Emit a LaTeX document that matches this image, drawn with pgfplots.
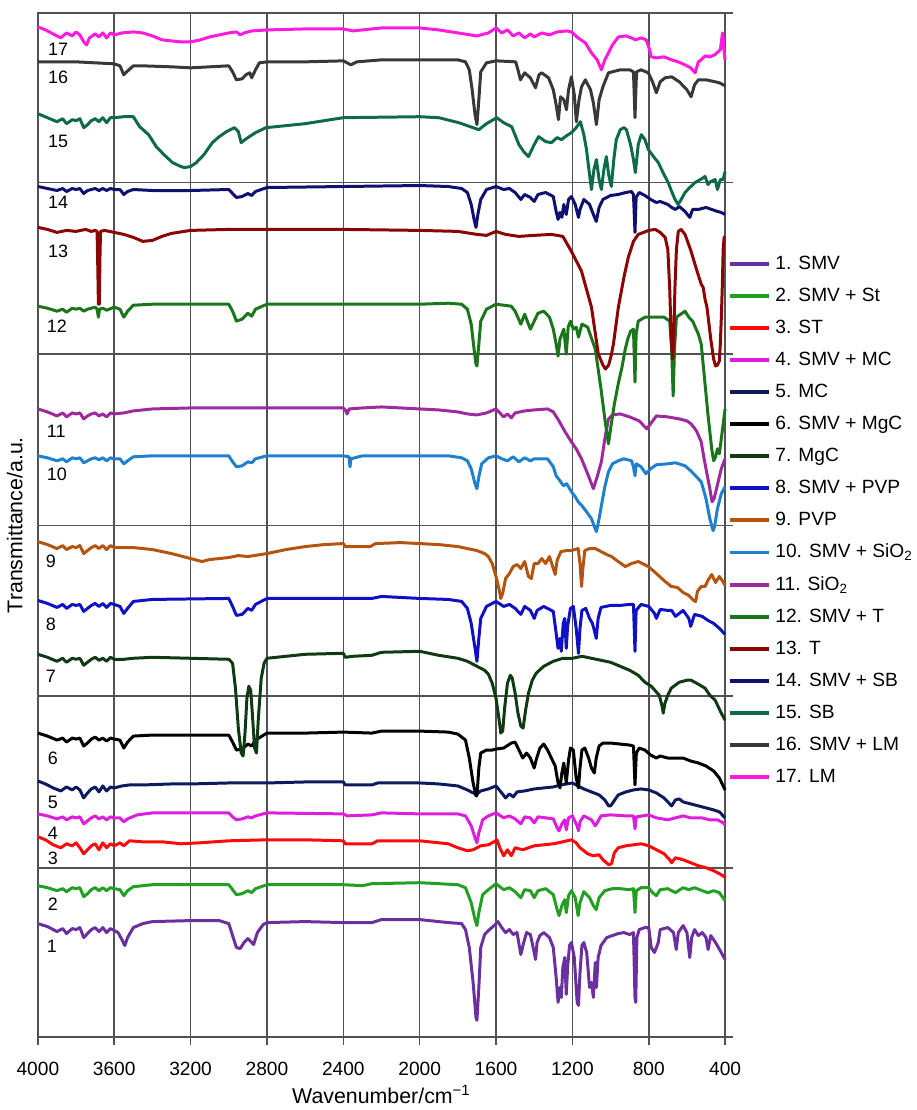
\documentclass[border=0pt]{standalone}
\usepackage{fontspec}
\setmainfont{Liberation Sans}
\usepackage{pgfplots}
\pgfplotsset{compat=1.18}
\definecolor{gridgray}{HTML}{525252}
\definecolor{c1}{HTML}{6B2FA0}
\definecolor{c2}{HTML}{22A022}
\definecolor{c3}{HTML}{FF0A0A}
\definecolor{c4}{HTML}{DD1FDD}
\definecolor{c5}{HTML}{0D1B5E}
\definecolor{c6}{HTML}{000000}
\definecolor{c7}{HTML}{103A12}
\definecolor{c8}{HTML}{1010C4}
\definecolor{c9}{HTML}{B4540F}
\definecolor{c10}{HTML}{2080D0}
\definecolor{c11}{HTML}{9E2A9E}
\definecolor{c12}{HTML}{1B761B}
\definecolor{c13}{HTML}{8B0505}
\definecolor{c14}{HTML}{101070}
\definecolor{c15}{HTML}{0E6B48}
\definecolor{c16}{HTML}{383838}
\definecolor{c17}{HTML}{FF1ADE}
\begin{document}
\begin{tikzpicture}
\begin{axis}[
 width=344.5pt,height=513.5pt,scale only axis,
 x dir=reverse,y dir=reverse,
 xmin=400,xmax=4000,ymin=13,ymax=1040,
 xtick={400,800,...,4000},
 ytick={13,183,355,527,698,870,1040},yticklabels={},
 xtick pos=left,ytick pos=right,tick align=outside,major tick length=4pt,
 grid=major,major grid style={draw=gridgray,line width=0.8pt},
 axis line style={draw=gridgray,line width=0.8pt},
 tick style={draw=gridgray,line width=0.8pt},
 /pgf/number format/1000 sep={},/pgf/number format/assume math mode=true,
 tick label style={font=\fontsize{9.6}{11}\selectfont},
 xticklabel style={yshift=-5pt},
 xlabel={Wavenumber/cm\textsuperscript{−1}},ylabel={Transmittance/a.u.},
 label style={font=\fontsize{10.7}{12}\selectfont},
 xlabel style={at={(axis description cs:0.5,-0.0643)},anchor=base},
 ylabel style={at={(axis description cs:-0.012,0.5)},anchor=south},
 legend style={at={(axis description cs:1.003,0.5044)},anchor=west,draw=none,fill=none,
   font=\fontsize{9.6}{11}\selectfont,inner xsep=0pt,row sep=3.85pt,cells={anchor=west}},
 legend image code/.code={\draw[#1,line width=2pt] (0pt,0pt) -- (20pt,0pt);},
 every axis plot/.append style={line width=1.5pt,line join=round},
 clip=false,
]
% 1. SMV
\addplot[c1] coordinates {(4000,926)(3950,929)(3900,934)(3870,931)(3850,936)(3820,931)(3800,932)(3780,930)(3760,940)(3740,936)(3720,932)(3700,930)(3680,934)(3660,930)(3640,935)(3620,931)(3600,933)(3580,935)(3560,942)(3545,948)(3530,940)(3500,930)(3450,926)(3400,924)(3200,923)(3050,923)(3000,926)(2980,938)(2960,950)(2940,951)(2920,945)(2900,941)(2880,945)(2870,947)(2850,935)(2820,927)(2800,925)(2600,924)(2400,925)(2250,925)(2200,922)(2000,922)(1850,925)(1780,926)(1760,932)(1740,950)(1720,985)(1705,1020)(1700,1023)(1690,990)(1680,950)(1660,937)(1640,933)(1610,928)(1590,924)(1570,930)(1550,935)(1530,932)(1510,937)(1490,935)(1470,957)(1455,945)(1440,935)(1420,937)(1400,955)(1393,962)(1385,945)(1370,938)(1350,935)(1320,940)(1300,950)(1285,980)(1275,1005)(1265,990)(1258,1000)(1250,970)(1240,960)(1232,997)(1225,970)(1215,948)(1205,945)(1190,960)(1175,1005)(1168,1008)(1160,975)(1150,948)(1140,945)(1125,955)(1110,990)(1100,985)(1090,1000)(1080,965)(1074,990)(1065,960)(1050,948)(1020,940)(990,938)(960,936)(930,935)(900,937)(880,935)(872,1000)(868,1005)(862,940)(850,932)(820,930)(800,930)(787,950)(770,955)(750,945)(740,932)(700,930)(670,935)(656,952)(645,935)(620,928)(600,935)(585,960)(575,940)(560,932)(540,938)(520,935)(500,940)(489,952)(475,938)(450,945)(420,955)(400,962)};
% 2. SMV + St
\addplot[c2] coordinates {(4000,888)(3950,890)(3900,893)(3870,891)(3850,894)(3820,890)(3800,891)(3780,890)(3760,899)(3740,896)(3720,892)(3700,890)(3680,893)(3660,890)(3640,893)(3620,890)(3600,891)(3570,892)(3550,898)(3530,893)(3500,889)(3400,887)(3000,887)(2980,892)(2960,897)(2930,896)(2900,893)(2880,895)(2860,891)(2800,887)(2400,887)(2300,888)(2250,886)(2000,885)(1800,887)(1760,890)(1730,905)(1710,922)(1700,928)(1690,915)(1670,897)(1640,892)(1600,886)(1560,892)(1530,890)(1500,894)(1470,900)(1450,892)(1420,893)(1400,900)(1380,893)(1340,891)(1300,897)(1280,912)(1270,918)(1255,908)(1240,902)(1232,915)(1220,898)(1205,893)(1185,900)(1170,918)(1160,905)(1140,894)(1110,900)(1090,908)(1075,912)(1060,900)(1030,893)(990,891)(950,891)(900,892)(880,891)(872,915)(865,893)(840,890)(800,890)(780,895)(760,898)(740,892)(700,891)(660,895)(620,890)(590,892)(560,890)(520,893)(490,895)(460,893)(430,895)(400,903)};
% 3. ST
\addplot[c3] coordinates {(4000,839)(3960,842)(3920,847)(3880,850)(3850,846)(3820,848)(3800,845)(3780,850)(3760,856)(3740,852)(3720,848)(3700,846)(3680,852)(3660,845)(3640,850)(3620,846)(3600,848)(3570,845)(3550,848)(3520,843)(3450,844)(3350,844)(3250,846)(3150,845)(3000,843)(2800,842)(2600,842)(2400,843)(2390,846)(2250,846)(2220,843)(2000,843)(1950,844)(1850,846)(1800,850)(1750,853)(1720,852)(1700,850)(1680,848)(1640,847)(1610,844)(1595,842)(1580,850)(1560,858)(1540,852)(1520,858)(1500,850)(1460,852)(1400,848)(1300,846)(1250,844)(1205,842)(1180,845)(1160,850)(1120,856)(1090,858)(1060,857)(1040,862)(1010,867)(995,866)(980,855)(960,850)(920,848)(880,847)(840,846)(800,848)(760,852)(720,856)(690,862)(680,865)(660,860)(620,862)(580,865)(540,868)(500,870)(460,873)(430,876)(410,878)(400,880)};
% 4. SMV + MC
\addplot[c4] coordinates {(4000,816)(3950,818)(3900,821)(3870,819)(3850,822)(3820,819)(3800,820)(3780,819)(3760,826)(3740,823)(3720,820)(3700,818)(3680,821)(3660,819)(3640,822)(3620,819)(3600,820)(3570,820)(3550,824)(3530,821)(3480,817)(3400,815)(3000,815)(2980,819)(2960,822)(2930,821)(2900,819)(2880,820)(2860,818)(2800,815)(2400,816)(2380,818)(2250,817)(2200,815)(2000,816)(1800,816)(1760,818)(1730,828)(1710,840)(1700,845)(1690,835)(1670,822)(1640,818)(1600,815)(1560,820)(1530,818)(1500,821)(1470,826)(1450,819)(1420,820)(1400,825)(1380,819)(1300,821)(1280,830)(1270,833)(1255,826)(1240,822)(1232,832)(1220,820)(1200,818)(1175,828)(1168,833)(1160,824)(1140,818)(1100,822)(1080,828)(1070,825)(1050,818)(1000,817)(920,818)(880,818)(872,831)(865,819)(800,817)(760,820)(700,822)(660,820)(620,818)(580,820)(520,820)(480,822)(440,822)(410,825)(400,827)};
% 5. MC
\addplot[c5] coordinates {(4000,783)(3960,786)(3920,790)(3880,793)(3850,789)(3820,792)(3800,789)(3780,792)(3760,800)(3740,795)(3720,791)(3700,789)(3680,794)(3660,788)(3640,793)(3620,789)(3600,790)(3560,788)(3520,787)(3450,787)(3300,786)(3200,786)(3000,785)(2800,785)(2600,784)(2400,784)(2390,787)(2250,787)(2220,785)(2000,785)(1900,786)(1800,788)(1750,792)(1720,795)(1700,796)(1680,793)(1640,791)(1600,788)(1570,795)(1550,800)(1530,796)(1510,799)(1490,794)(1450,793)(1400,791)(1300,789)(1260,787)(1200,785)(1170,788)(1140,791)(1100,794)(1060,797)(1030,802)(1010,808)(1000,808)(985,804)(960,797)(920,794)(880,792)(840,791)(800,792)(760,795)(720,800)(690,806)(680,808)(660,802)(640,801)(620,804)(580,806)(540,808)(500,810)(460,812)(430,814)(410,818)(400,820)};
% 6. SMV + MgC
\addplot[c6] coordinates {(4000,735)(3950,738)(3900,742)(3870,740)(3850,744)(3820,740)(3800,741)(3780,740)(3760,748)(3740,745)(3720,741)(3700,739)(3680,742)(3660,740)(3640,743)(3620,740)(3600,741)(3570,742)(3550,750)(3530,744)(3500,738)(3400,737)(3200,737)(3000,737)(2980,744)(2960,752)(2930,751)(2900,746)(2880,748)(2860,742)(2800,735)(2600,735)(2400,734)(2250,735)(2200,733)(2000,733)(1850,734)(1800,736)(1760,742)(1740,760)(1720,785)(1705,798)(1700,798)(1690,770)(1680,755)(1650,752)(1620,752)(1600,751)(1560,750)(1520,745)(1500,744)(1480,752)(1460,760)(1440,755)(1420,760)(1400,770)(1390,762)(1370,750)(1350,746)(1330,752)(1310,760)(1290,768)(1275,785)(1265,790)(1255,775)(1245,765)(1232,785)(1220,762)(1210,750)(1195,752)(1180,780)(1168,790)(1160,770)(1150,752)(1135,750)(1115,760)(1100,770)(1085,775)(1075,760)(1060,748)(1040,745)(1000,745)(950,746)(900,747)(880,748)(872,787)(865,755)(850,750)(820,752)(790,757)(760,760)(740,758)(700,760)(660,760)(620,760)(580,763)(540,765)(500,768)(460,773)(430,780)(410,788)(400,792)};
% 7. MgC
\addplot[c7] coordinates {(4000,656)(3950,659)(3900,663)(3870,660)(3850,664)(3820,660)(3800,661)(3780,660)(3760,667)(3740,664)(3720,661)(3700,659)(3680,662)(3660,660)(3640,663)(3620,659)(3600,661)(3550,661)(3500,660)(3400,659)(3200,660)(3000,661)(2980,665)(2965,690)(2950,730)(2935,755)(2925,758)(2915,735)(2905,700)(2895,688)(2885,692)(2875,720)(2865,750)(2855,755)(2845,720)(2830,680)(2815,665)(2800,660)(2600,656)(2400,655)(2390,659)(2350,658)(2250,657)(2200,654)(2000,653)(1900,657)(1800,660)(1750,663)(1700,668)(1660,672)(1640,676)(1620,685)(1600,700)(1585,720)(1575,735)(1565,733)(1555,710)(1540,685)(1525,677)(1515,680)(1500,695)(1485,715)(1470,728)(1458,730)(1445,712)(1430,695)(1410,682)(1390,675)(1350,668)(1300,663)(1250,660)(1200,660)(1150,658)(1050,662)(1000,664)(950,668)(900,672)(855,677)(820,684)(787,688)(745,697)(730,708)(724,715)(715,705)(700,697)(682,690)(640,684)(600,682)(578,682)(540,686)(505,690)(480,697)(452,702)(420,715)(400,722)};
% 8. SMV + PVP
\addplot[c8] coordinates {(4000,602)(3950,605)(3900,609)(3870,606)(3850,610)(3820,606)(3800,607)(3780,606)(3760,613)(3740,610)(3720,607)(3700,605)(3680,608)(3660,605)(3640,609)(3620,605)(3600,606)(3570,608)(3550,615)(3530,610)(3500,603)(3400,601)(3000,600)(2980,608)(2960,617)(2930,616)(2900,610)(2880,612)(2860,606)(2800,600)(2400,600)(2250,600)(2200,598)(2000,600)(1850,601)(1780,603)(1750,610)(1730,625)(1710,650)(1700,663)(1690,640)(1680,620)(1650,608)(1600,603)(1560,608)(1530,606)(1500,610)(1470,616)(1450,608)(1420,612)(1400,620)(1385,612)(1350,608)(1300,613)(1285,635)(1275,650)(1265,640)(1258,653)(1248,625)(1240,620)(1232,650)(1225,628)(1210,610)(1195,608)(1180,630)(1168,655)(1160,630)(1150,612)(1130,610)(1110,620)(1095,625)(1085,632)(1075,640)(1065,620)(1050,609)(1000,607)(950,607)(900,606)(880,606)(872,653)(866,612)(840,606)(800,608)(770,615)(760,620)(740,611)(700,612)(680,612)(660,618)(620,612)(590,620)(580,628)(560,616)(520,618)(490,622)(460,625)(430,630)(400,636)};
% 9. PVP
\addplot[c9] coordinates {(4000,543)(3950,546)(3900,550)(3870,547)(3850,551)(3820,548)(3800,549)(3780,547)(3760,555)(3740,552)(3720,549)(3700,547)(3680,550)(3660,547)(3640,551)(3620,547)(3600,549)(3550,549)(3500,549)(3400,551)(3300,555)(3200,560)(3140,563)(3100,561)(3000,559)(2950,557)(2900,558)(2800,555)(2700,551)(2600,548)(2500,546)(2400,545)(2390,548)(2260,548)(2230,545)(2100,544)(2000,545)(1900,546)(1800,548)(1750,550)(1700,552)(1660,555)(1640,558)(1620,565)(1600,578)(1585,590)(1575,600)(1565,595)(1550,580)(1530,575)(1510,568)(1490,566)(1470,570)(1450,563)(1430,578)(1415,580)(1400,565)(1380,565)(1360,560)(1340,565)(1320,558)(1300,570)(1290,576)(1280,562)(1260,553)(1230,552)(1205,552)(1170,550)(1160,565)(1152,588)(1145,570)(1135,552)(1110,550)(1080,550)(1050,553)(1020,556)(995,558)(960,563)(923,568)(890,565)(855,563)(802,568)(760,575)(720,582)(682,588)(650,589)(620,594)(590,597)(565,602)(554,603)(545,593)(525,588)(505,588)(490,582)(470,576)(450,584)(430,578)(415,582)(400,587)};
% 10. SMV + SiO2
\addplot[c10] coordinates {(4000,457)(3950,459)(3900,462)(3870,460)(3850,463)(3820,459)(3800,460)(3780,459)(3760,464)(3740,462)(3720,460)(3700,459)(3680,461)(3660,459)(3640,462)(3620,459)(3600,460)(3570,460)(3550,465)(3530,462)(3500,458)(3400,457)(3000,457)(2980,463)(2960,468)(2930,467)(2900,463)(2880,464)(2860,460)(2800,457)(2400,457)(2370,458)(2365,468)(2360,460)(2300,457)(2000,457)(1850,457)(1780,459)(1750,462)(1730,470)(1710,485)(1700,490)(1690,478)(1675,465)(1640,459)(1600,457)(1570,460)(1540,462)(1510,458)(1480,463)(1450,459)(1420,462)(1400,460)(1330,460)(1300,468)(1285,477)(1265,482)(1247,487)(1230,485)(1205,493)(1185,498)(1170,503)(1150,507)(1130,512)(1100,520)(1085,528)(1074,533)(1060,520)(1048,507)(1030,488)(1011,473)(990,465)(960,462)(930,460)(890,462)(880,468)(872,477)(865,465)(840,468)(815,475)(790,470)(760,466)(700,465)(660,464)(610,467)(580,472)(550,478)(525,483)(500,500)(480,520)(463,532)(455,528)(440,510)(420,495)(400,488)};
% 11. SiO2
\addplot[c11] coordinates {(4000,410)(3950,413)(3900,417)(3870,414)(3850,418)(3820,414)(3800,415)(3780,414)(3760,420)(3740,417)(3720,415)(3700,414)(3680,417)(3660,415)(3640,418)(3620,414)(3600,415)(3550,414)(3500,412)(3400,410)(3200,409)(3000,409)(2800,409)(2600,409)(2400,409)(2390,411)(2380,415)(2370,410)(2300,409)(2200,408)(2000,410)(1900,411)(1800,413)(1750,415)(1700,416)(1650,414)(1600,410)(1580,414)(1560,418)(1540,415)(1520,419)(1500,414)(1450,412)(1400,411)(1330,410)(1300,413)(1270,422)(1238,433)(1205,443)(1180,450)(1152,460)(1116,477)(1090,490)(1070,478)(1048,463)(1030,440)(1011,420)(990,416)(950,415)(900,418)(850,422)(810,430)(787,424)(760,417)(700,418)(640,420)(600,422)(578,425)(550,432)(525,443)(510,460)(495,475)(480,490)(468,503)(458,500)(445,490)(420,470)(400,460)};
% 12. SMV + T
\addplot[c12] coordinates {(4000,307)(3950,309)(3900,312)(3870,310)(3850,313)(3820,309)(3800,310)(3780,309)(3760,312)(3740,310)(3720,309)(3700,308)(3690,310)(3683,318)(3677,310)(3660,309)(3640,311)(3600,308)(3570,310)(3550,318)(3530,312)(3500,306)(3400,305)(3000,305)(2980,312)(2960,322)(2930,320)(2900,314)(2880,317)(2860,310)(2800,305)(2400,305)(2000,305)(1850,304)(1780,305)(1750,310)(1730,325)(1715,350)(1705,365)(1700,367)(1690,345)(1680,322)(1650,310)(1600,305)(1560,306)(1520,307)(1500,312)(1470,325)(1450,315)(1420,330)(1400,322)(1380,314)(1350,312)(1320,318)(1300,330)(1285,345)(1275,357)(1265,340)(1255,335)(1245,330)(1232,355)(1222,328)(1210,322)(1195,330)(1180,328)(1168,338)(1150,325)(1120,328)(1080,350)(1050,390)(1030,420)(1011,445)(1000,430)(980,405)(960,385)(940,368)(923,350)(910,340)(895,332)(880,330)(872,383)(866,335)(855,322)(820,318)(780,318)(720,318)(690,322)(680,350)(672,397)(665,350)(655,318)(610,312)(590,318)(570,322)(540,335)(525,345)(510,375)(490,415)(470,450)(460,462)(450,458)(440,450)(430,455)(420,440)(410,425)(400,410)};
% 13. T
\addplot[c13] coordinates {(4000,228)(3950,230)(3900,233)(3850,231)(3800,232)(3750,230)(3720,232)(3700,231)(3690,232)(3686,270)(3683,305)(3678,305)(3675,260)(3672,232)(3650,231)(3600,233)(3550,235)(3500,238)(3450,242)(3400,241)(3350,237)(3300,234)(3200,231)(3000,230)(2800,230)(2400,230)(2000,231)(1800,232)(1700,235)(1650,236)(1600,232)(1550,235)(1480,237)(1400,236)(1310,235)(1250,237)(1205,252)(1152,272)(1100,308)(1064,355)(1040,366)(1027,370)(1010,366)(995,355)(985,345)(959,308)(930,278)(907,258)(880,242)(855,235)(800,231)(766,230)(740,233)(714,238)(700,250)(690,290)(682,340)(675,360)(670,345)(663,290)(655,250)(645,232)(630,230)(610,235)(578,252)(550,270)(525,285)(515,288)(505,300)(495,308)(475,340)(460,360)(450,367)(440,366)(430,362)(425,345)(420,320)(415,290)(410,250)(405,238)(400,237)};
% 14. SMV + SB
\addplot[c14] coordinates {(4000,187)(3950,189)(3900,191)(3870,189)(3850,192)(3820,189)(3800,190)(3780,189)(3760,194)(3740,191)(3720,190)(3700,189)(3680,191)(3660,189)(3640,191)(3620,189)(3600,190)(3570,190)(3550,195)(3530,192)(3500,190)(3400,191)(3200,191)(3000,190)(2980,194)(2960,198)(2930,197)(2900,194)(2880,196)(2860,192)(2800,188)(2400,187)(2000,186)(1850,187)(1780,189)(1750,193)(1730,205)(1715,220)(1705,228)(1695,215)(1680,200)(1650,190)(1600,187)(1560,190)(1530,189)(1500,193)(1470,200)(1450,195)(1420,198)(1400,202)(1380,195)(1340,193)(1300,197)(1285,212)(1275,220)(1265,213)(1255,218)(1245,205)(1232,215)(1220,200)(1205,197)(1185,205)(1168,218)(1160,210)(1140,200)(1110,205)(1090,215)(1075,222)(1060,208)(1040,200)(1000,196)(960,195)(920,193)(890,192)(880,195)(872,233)(866,198)(850,193)(820,196)(790,200)(760,203)(740,202)(700,205)(680,208)(660,210)(640,207)(610,212)(585,218)(570,210)(540,210)(500,208)(470,210)(440,212)(420,213)(400,215)};
% 15. SB
\addplot[c15] coordinates {(4000,114)(3950,118)(3900,122)(3870,119)(3850,124)(3820,120)(3800,121)(3780,119)(3760,128)(3740,125)(3720,121)(3700,119)(3680,122)(3660,118)(3640,123)(3620,118)(3600,118)(3550,117)(3500,117)(3467,127)(3420,135)(3380,147)(3340,155)(3295,163)(3250,167)(3232,168)(3200,167)(3170,163)(3130,155)(3086,143)(3050,137)(3012,132)(2970,128)(2950,132)(2935,143)(2915,140)(2900,138)(2860,133)(2805,128)(2600,124)(2400,118)(2000,117)(1900,118)(1795,123)(1690,130)(1650,124)(1596,118)(1560,123)(1518,127)(1480,145)(1455,152)(1430,157)(1400,145)(1377,137)(1340,142)(1310,143)(1280,138)(1257,140)(1230,136)(1205,133)(1180,128)(1158,122)(1140,135)(1126,150)(1110,175)(1100,190)(1087,170)(1074,160)(1060,180)(1048,190)(1035,170)(1022,157)(1010,175)(996,187)(983,160)(970,140)(949,130)(930,128)(917,130)(895,145)(880,160)(870,173)(855,145)(839,135)(820,140)(802,150)(775,157)(750,163)(720,175)(698,183)(680,192)(662,200)(646,205)(630,200)(610,193)(585,188)(557,183)(530,180)(505,177)(490,185)(475,182)(452,180)(440,190)(425,180)(410,180)(400,172)};
% 16. SMV + LM
\addplot[c16] coordinates {(4000,62)(3800,62)(3700,63)(3600,64)(3570,66)(3550,75)(3535,72)(3500,66)(3450,66)(3300,67)(3200,68)(3000,66)(2980,72)(2960,80)(2930,79)(2910,75)(2890,73)(2880,78)(2860,70)(2840,63)(2800,62)(2600,62)(2400,61)(2380,63)(2360,65)(2330,62)(2200,60)(2000,60)(1800,60)(1760,62)(1740,70)(1725,90)(1710,115)(1700,125)(1690,100)(1680,72)(1650,63)(1600,61)(1497,62)(1485,70)(1472,80)(1450,73)(1420,78)(1393,88)(1375,75)(1361,73)(1325,78)(1300,90)(1285,105)(1273,120)(1262,97)(1245,100)(1231,110)(1220,90)(1205,77)(1190,95)(1179,122)(1165,100)(1152,87)(1132,80)(1105,90)(1090,103)(1074,125)(1060,100)(1040,87)(1011,73)(950,70)(900,70)(880,72)(872,118)(864,72)(840,70)(802,73)(780,82)(760,93)(740,82)(714,78)(680,77)(640,82)(600,90)(578,97)(560,85)(540,80)(500,80)(452,82)(430,83)(410,85)(400,86)};
% 17. LM
\addplot[c17] coordinates {(4000,27)(3960,30)(3920,34)(3880,38)(3850,33)(3820,36)(3800,32)(3780,35)(3760,42)(3745,45)(3730,38)(3700,34)(3680,37)(3660,33)(3640,38)(3620,33)(3600,35)(3560,33)(3500,32)(3450,33)(3400,36)(3350,40)(3300,41)(3250,42)(3200,42)(3150,40)(3100,37)(3050,35)(3000,33)(2960,32)(2940,35)(2920,33)(2880,31)(2800,30)(2600,29)(2400,29)(2350,31)(2300,30)(2200,28)(2000,28)(1900,30)(1800,33)(1700,36)(1640,33)(1600,28)(1570,33)(1540,30)(1510,36)(1480,33)(1450,38)(1420,34)(1400,37)(1360,33)(1320,35)(1280,32)(1230,31)(1205,32)(1170,38)(1132,43)(1100,53)(1070,60)(1048,70)(1030,60)(1011,53)(990,45)(959,37)(920,36)(890,38)(870,40)(840,38)(813,40)(795,50)(787,57)(760,58)(720,57)(680,60)(646,62)(610,65)(580,68)(557,73)(540,62)(525,60)(505,56)(480,57)(455,55)(425,50)(418,40)(414,33)(410,38)(405,52)(400,60)};
\legend{1. SMV,2. SMV + St,3. ST,4. SMV + MC,5. MC,6. SMV + MgC,7. MgC,8. SMV + PVP,9. PVP,10. SMV + SiO\textsubscript{2},11. SiO\textsubscript{2},12. SMV + T,13. T,14. SMV + SB,15. SB,16. SMV + LM,17. LM}
\begin{scope}[every node/.style={anchor=west,font=\fontsize{9}{10}\selectfont,inner sep=0pt}]
\node at (axis cs:3948,49) {17};
\node at (axis cs:3948,78) {16};
\node at (axis cs:3948,142) {15};
\node at (axis cs:3948,203) {14};
\node at (axis cs:3948,252) {13};
\node at (axis cs:3955,327) {12};
\node at (axis cs:3955,432) {11};
\node at (axis cs:3955,476) {10};
\node at (axis cs:3960,563) {9};
\node at (axis cs:3960,626) {8};
\node at (axis cs:3960,678) {7};
\node at (axis cs:3950,760) {6};
\node at (axis cs:3950,805) {5};
\node at (axis cs:3950,835) {4};
\node at (axis cs:3950,861) {3};
\node at (axis cs:3950,907) {2};
\node at (axis cs:3955,949) {1};
\end{scope}
\coordinate (bl) at (axis cs:4000,1040);
\coordinate (tr) at (axis cs:400,13);
\end{axis}
\path ([shift={(-19pt,-35pt)}]bl) rectangle ([shift={(94pt,6.5pt)}]tr);
\end{tikzpicture}
\end{document}
